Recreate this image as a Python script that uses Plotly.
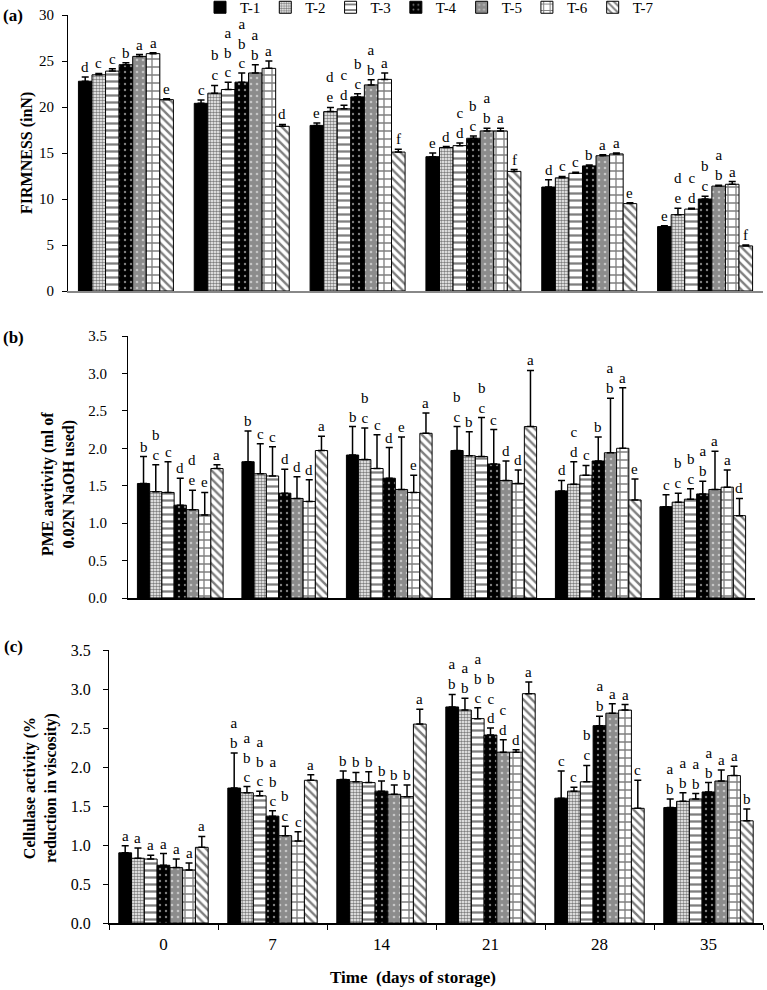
import plotly.graph_objects as go

days = ["0", "7", "14", "21", "28", "35"]
treatments = ["T-1", "T-2", "T-3", "T-4", "T-5", "T-6", "T-7"]

# Panel (a) firmness (N)
firm = [
    [22.8, 20.4, 18.0, 14.6, 11.3, 7.0],
    [23.5, 21.5, 19.5, 15.6, 12.3, 8.3],
    [23.9, 21.9, 19.8, 15.8, 12.8, 8.9],
    [24.6, 22.7, 21.1, 16.6, 13.6, 10.0],
    [25.5, 23.7, 22.4, 17.4, 14.7, 11.4],
    [25.8, 24.2, 23.0, 17.4, 14.9, 11.6],
    [20.8, 17.9, 15.1, 13.0, 9.5, 4.9],
]
firm_err = [
    [0.45, 0.35, 0.25, 0.4, 0.8, 0.1],
    [0.15, 0.85, 0.45, 0.1, 0.15, 0.7],
    [0.25, 0.8, 0.4, 0.3, 0.1, 0.1],
    [0.2, 1.0, 0.35, 0.25, 0.1, 0.3],
    [0.2, 0.9, 0.55, 0.3, 0.1, 0.1],
    [0.1, 0.8, 0.7, 0.3, 0.1, 0.3],
    [0.1, 0.2, 0.3, 0.2, 0.1, 0.1],
]
firm_letters = [
    ["d", "c", "e", "e", "d", "e"],
    ["c", "b<br>c", "d<br>e", "d", "c", "d<br>e"],
    ["c", "a<br>b<br>c", "c<br>d", "c<br>d", "c", "c<br>d"],
    ["b", "a<br>b<br>c", "b<br>c", "b<br>c", "b", "b<br>c"],
    ["a", "a<br>b", "a<br>b", "a<br>b", "a", "a<br>b"],
    ["a", "a", "a", "a", "a", "a"],
    ["e", "d", "f", "f", "e", "f"],
]

# Panel (b) PME activity
pme = [
    [1.53, 1.82, 1.91, 1.97, 1.43, 1.22],
    [1.42, 1.66, 1.85, 1.90, 1.52, 1.28],
    [1.41, 1.63, 1.73, 1.89, 1.64, 1.32],
    [1.24, 1.40, 1.60, 1.79, 1.83, 1.39],
    [1.18, 1.33, 1.45, 1.57, 1.94, 1.45],
    [1.11, 1.29, 1.41, 1.53, 2.00, 1.48],
    [1.73, 1.97, 2.20, 2.29, 1.31, 1.10],
]
pme_err = [
    [0.36, 0.41, 0.38, 0.32, 0.14, 0.16],
    [0.36, 0.40, 0.42, 0.32, 0.30, 0.12],
    [0.41, 0.39, 0.45, 0.52, 0.13, 0.14],
    [0.36, 0.32, 0.41, 0.46, 0.32, 0.17],
    [0.26, 0.29, 0.70, 0.26, 0.73, 0.51],
    [0.30, 0.29, 0.23, 0.18, 0.81, 0.23],
    [0.05, 0.19, 0.27, 0.75, 0.28, 0.23],
]
pme_letters = [
    ["b", "b", "b", "b<br>c", "d", "c"],
    ["b<br>c", "c", "b<br>c", "b", "c<br>d", "b<br>c"],
    ["c", "c", "c", "b<br>c", "c", "b<br>c"],
    ["d", "d", "d", "c", "b", "a<br>b"],
    ["d<br>e", "d", "e", "d", "a<br>b", "a"],
    ["e", "d", "e", "d", "a", "a"],
    ["a", "a", "a", "a", "e", "d"],
]

# Panel (c) cellulase activity
cel = [
    [0.90, 1.73, 1.84, 2.77, 1.60, 1.48],
    [0.83, 1.67, 1.81, 2.73, 1.69, 1.56],
    [0.82, 1.63, 1.80, 2.62, 1.81, 1.59],
    [0.74, 1.37, 1.69, 2.41, 2.53, 1.68],
    [0.71, 1.12, 1.65, 2.19, 2.69, 1.82],
    [0.68, 1.05, 1.62, 2.19, 2.73, 1.89],
    [0.97, 1.83, 2.55, 2.94, 1.47, 1.31],
]
cel_err = [
    [0.09, 0.45, 0.11, 0.16, 0.35, 0.11],
    [0.13, 0.08, 0.12, 0.15, 0.05, 0.11],
    [0.05, 0.06, 0.14, 0.14, 0.21, 0.07],
    [0.15, 0.07, 0.13, 0.09, 0.12, 0.12],
    [0.11, 0.12, 0.12, 0.16, 0.12, 0.14],
    [0.09, 0.12, 0.15, 0.03, 0.07, 0.12],
    [0.14, 0.07, 0.19, 0.15, 0.36, 0.15],
]
cel_letters = [
    ["a", "a<br>b", "b", "a<br>b", "c", "a<br>b"],
    ["a", "a<br>b<br>c", "b", "a<br>b", "c", "a<br>b"],
    ["a", "a<br>b<br>c", "b", "a<br>b<br>c", "b<br>c", "a<br>b"],
    ["a", "a<br>b<br>c", "b", "b<br>c<br>d", "a<br>b", "a<br>b"],
    ["a", "b<br>c", "b", "c<br>d", "a", "a"],
    ["a", "c", "b", "d", "a", "a"],
    ["a", "a", "a", "a", "c", "b"],
]

# ---- styles ----
W, H = 767, 990
FONT = "Liberation Serif"
BARGAP = 0.18
patterns = [
    dict(shape="", bgcolor="black", fgcolor="black"),
    dict(shape=".", bgcolor="white", fgcolor="black", size=3, solidity=0.55),
    dict(shape="-", bgcolor="white", fgcolor="black", size=7, solidity=0.33),
    dict(shape=".", bgcolor="black", fgcolor="white", size=6, solidity=0.12),
    dict(shape=".", bgcolor="#8c8c8c", fgcolor="white", size=6, solidity=0.15),
    dict(shape="+", bgcolor="white", fgcolor="black", size=8, solidity=0.3),
    dict(shape="\\", bgcolor="white", fgcolor="black", size=6, solidity=0.4),
]

# panel boxes in pixels: (left, right, top, bottom)
boxes = [(68, 763, 15, 291), (128, 755, 336, 598), (109, 763, 650, 923)]
panels = [(firm, firm_err, firm_letters), (pme, pme_err, pme_letters), (cel, cel_err, cel_letters)]
ytick_sizes = [15, 15, 16]
ytick_standoff = [5, 12, 9]

fig = go.Figure()
annotations = []
nT = len(treatments)
bw = (1 - BARGAP) / nT

for p, (vals, errs, letters) in enumerate(panels):
    sfx = "" if p == 0 else str(p + 1)
    for j in range(nT):
        fig.add_trace(go.Bar(
            x=days, y=vals[j], name=treatments[j],
            xaxis="x" + sfx, yaxis="y" + sfx,
            showlegend=(p == 0),
            marker=dict(color="black" if j == 0 else "white",
                        line=dict(color="black", width=1),
                        pattern=patterns[j]),
            error_y=dict(type="data", array=errs[j], arrayminus=[0] * len(days),
                         symmetric=False, color="black", thickness=1.5, width=3.5),
        ))
        for i in range(len(days)):
            annotations.append(dict(
                x=i + (j - (nT - 1) / 2) * bw, y=vals[j][i] + errs[j][i],
                xref="x" + sfx, yref="y" + sfx, text=letters[j][i],
                showarrow=False, yanchor="bottom", xanchor="center",
                font=dict(family=FONT, size=15, color="black"), yshift=0,
            ))

layout = dict(
    width=W, height=H, margin=dict(l=0, r=0, t=0, b=0, autoexpand=False),
    paper_bgcolor="white", plot_bgcolor="white",
    barmode="group", bargap=BARGAP, bargroupgap=0,
    font=dict(family=FONT, size=15, color="black"),
    legend=dict(orientation="h", x=200 / W, y=1 + 9 / H, xanchor="left", yanchor="top",
                font=dict(family=FONT, size=15, color="black"),
                bgcolor="rgba(0,0,0,0)", itemwidth=30, tracegroupgap=0),
)
yranges = [[0, 30], [0, 3.5], [0, 3.5]]
ydticks = [5, 0.5, 0.5]
yfmt = ["d", ".1f", ".1f"]
for p, (l, r, t, b) in enumerate(boxes):
    sfx = "" if p == 0 else str(p + 1)
    last = p == 2
    layout["xaxis" + sfx] = dict(
        domain=[l / W, r / W], anchor="y" + sfx, type="category",
        showline=True, linecolor="#888888" if p == 0 else "black", linewidth=1.5,
        showgrid=False, zeroline=False,
        ticks="outside" if last else "", tickson="boundaries", ticklen=5,
        tickcolor="black", showticklabels=last, ticklabelstandoff=5,
        tickfont=dict(family=FONT, size=17, color="black"),
    )
    layout["yaxis" + sfx] = dict(
        domain=[1 - b / H, 1 - t / H], anchor="x" + sfx,
        range=yranges[p], dtick=ydticks[p], tickformat=yfmt[p],
        showline=True, linecolor="black", linewidth=1, showgrid=False, zeroline=False,
        ticks="outside", ticklen=5, tickcolor="black",
        ticklabelstandoff=ytick_standoff[p],
        tickfont=dict(family=FONT, size=ytick_sizes[p], color="black"),
    )

# titles and panel labels
def paper_text(text, x, y, size=16, angle=0):
    return dict(text=text, x=x / W, y=1 - y / H, xref="paper", yref="paper",
                showarrow=False, xanchor="center", yanchor="middle", textangle=angle,
                font=dict(family=FONT, size=size, color="black"))

annotations += [
    paper_text("<b>(a)</b>", 13, 16, 17),
    paper_text("<b>(b)</b>", 13, 337, 17),
    paper_text("<b>(c)</b>", 13, 646, 17),
    paper_text("<b>FIRMNESS (inN)</b>", 27, 153, 16, -90),
    paper_text("<b>PME aavtivity (ml of<br>0.02N NaOH used)</b>", 58, 484, 16, -90),
    paper_text("<b>Cellulase activity (%<br>reduction in viscosity)</b>", 40, 788, 16, -90),
    paper_text("<b>Time \u00a0(days of storage)</b>", 413, 977, 17),
]
layout["annotations"] = annotations
fig.update_layout(**layout)
fig.write_html("out.html", config={"displayModeBar": False},
               post_script="document.body.style.margin='0';document.body.style.padding='0';")
